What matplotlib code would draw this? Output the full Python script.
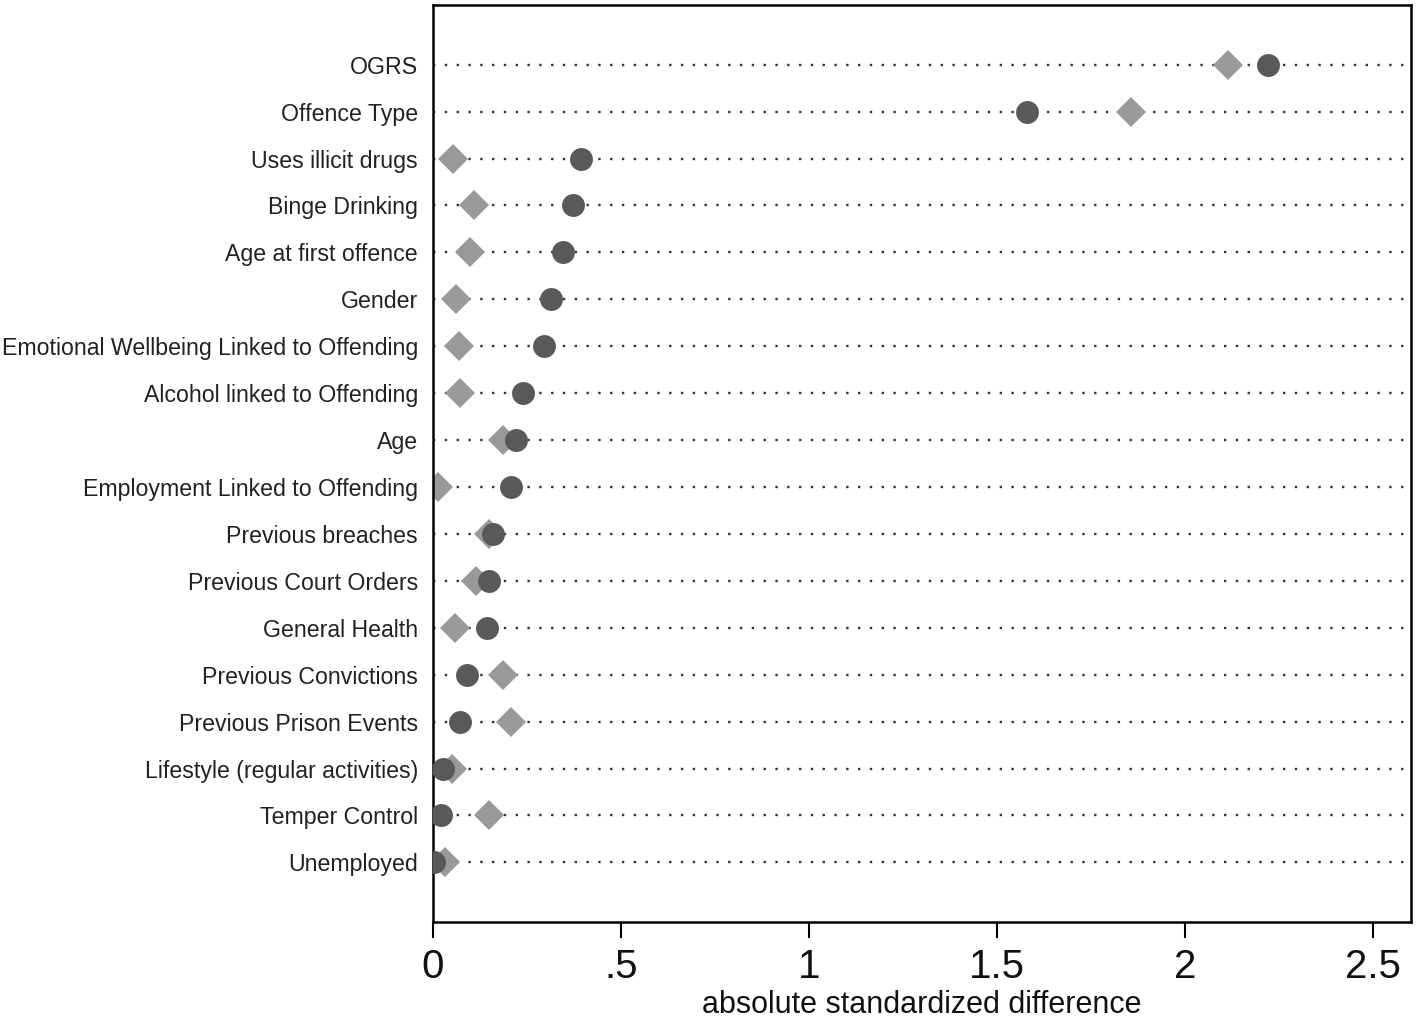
#!/usr/bin/env python3
"""Dot plot of absolute standardized differences before/after matching."""
import matplotlib.pyplot as plt

plt.rcParams["font.family"] = ["Liberation Sans", "DejaVu Sans"]

variables = [
    "OGRS",
    "Offence Type",
    "Uses illicit drugs",
    "Binge Drinking",
    "Age at first offence",
    "Gender",
    "Emotional Wellbeing Linked to Offending",
    "Alcohol linked to Offending",
    "Age",
    "Employment Linked to Offending",
    "Previous breaches",
    "Previous Court Orders",
    "General Health",
    "Previous Convictions",
    "Previous Prison Events",
    "Lifestyle (regular activities)",
    "Temper Control",
    "Unemployed",
]

# dark circles
circle_vals = [2.221, 1.580, 0.394, 0.372, 0.346, 0.314, 0.295, 0.239, 0.221,
               0.207, 0.160, 0.149, 0.144, 0.090, 0.072, 0.027, 0.021, 0.003]
# light diamonds
diamond_vals = [2.114, 1.856, 0.053, 0.109, 0.098, 0.061, 0.069, 0.072, 0.186,
                0.013, 0.149, 0.114, 0.059, 0.186, 0.207, 0.051, 0.149, 0.032]

xticks = [0, 0.5, 1, 1.5, 2, 2.5]
xticklabels = ["0", ".5", "1", "1.5", "2", "2.5"]

fig = plt.figure(figsize=(14.18, 10.19), dpi=100)
ax = fig.add_axes([0.3054, 0.0952, 0.6896, 0.8998])

ypos = list(range(len(variables)))
for y in ypos:
    ax.plot([0, 2.6], [y, y], color="#333333", linewidth=1.7,
            linestyle=(0, (1, 4)), zorder=1)

ax.plot(diamond_vals, ypos, linestyle="none", marker="D", markersize=15.5,
        color="#999999", markeredgewidth=0, zorder=2)
ax.plot(circle_vals, ypos, linestyle="none", marker="o", markersize=16.5,
        color="#595959", markeredgewidth=0, zorder=3)

ax.set_xlim(0, 2.6)
ax.set_ylim(len(variables) - 1 + 1.27, -1.27)
ax.set_yticks(ypos)
ax.set_yticklabels(variables, fontsize=16.7, color="#222222")
ax.tick_params(axis="y", length=0, pad=11)
ax.set_xticks(xticks)
ax.set_xticklabels(xticklabels, fontsize=29, color="#111111")
ax.tick_params(axis="x", length=11.5, width=1.5, pad=7)
ax.set_xlabel("absolute standardized difference", fontsize=22,
              color="#111111", labelpad=3)

for s in ax.spines.values():
    s.set_linewidth(1.8)

fig.savefig("out.png", dpi=100)
